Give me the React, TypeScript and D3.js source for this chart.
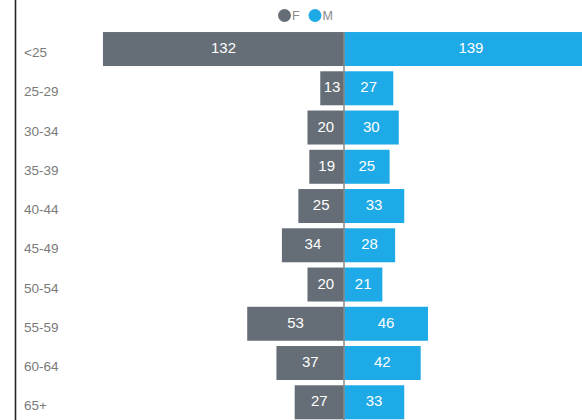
import React from "react";
import * as d3 from "d3";

const categories = ["<25", "25-29", "30-34", "35-39", "40-44", "45-49", "50-54", "55-59", "60-64", "65+"];
const femaleValues = [132, 13, 20, 19, 25, 34, 20, 53, 37, 27];
const maleValues = [139, 27, 30, 25, 33, 28, 21, 46, 42, 33];
const seriesNames = ["F", "M"];

const W = 582;
const H = 420;
const CENTER = 344;
const PX = 1.826;
const F_COLOR = "#656e76";
const M_COLOR = "#1eaae6";

export default function App() {
  const x = d3.scaleLinear().domain([-150, 150]).range([CENTER - 150 * PX, CENTER + 150 * PX]);
  const y = d3
    .scaleBand<string>()
    .domain(categories)
    .range([29.4, 421.9])
    .paddingInner(0.134)
    .paddingOuter(0.067);
  const bw = y.bandwidth();
  const font = "Liberation Sans, Arial, sans-serif";

  return (
    <svg
      width={W}
      height={H}
      style={{ position: "absolute", left: 0, top: 0, background: "#fff" }}
    >
      <rect x={0} y={0} width={W} height={H} fill="#fff" />
      {categories.map((c, i) => {
        const y0 = y(c)!;
        const fv = femaleValues[i];
        const mv = maleValues[i];
        const xf = x(-fv);
        const xm = x(mv);
        return (
          <g key={c}>
            <rect x={xf} y={y0} width={x(0) - xf} height={bw} fill={F_COLOR} />
            <rect x={x(0)} y={y0} width={xm - x(0)} height={bw} fill={M_COLOR} />
            <text
              x={(xf + x(0)) / 2}
              y={y0 + bw / 2 + 4}
              textAnchor="middle"
              fill="#fff"
              fontSize={15}
              fontFamily={font}
            >
              {fv}
            </text>
            <text
              x={(xm + x(0)) / 2}
              y={y0 + bw / 2 + 4}
              textAnchor="middle"
              fill="#fff"
              fontSize={15}
              fontFamily={font}
            >
              {mv}
            </text>
            <text
              x={24}
              y={y0 + bw / 2 + 8}
              fill="#7a7a7a"
              fontSize={13.5}
              fontFamily={font}
            >
              {c}
            </text>
          </g>
        );
      })}
      <line x1={x(0)} x2={x(0)} y1={y(categories[0])!} y2={H} stroke="#8a8a8a" strokeWidth={1.5} />
      <line x1={15.5} x2={15.5} y1={0} y2={H} stroke="#222" strokeWidth={1.6} />
      <g>
        <circle cx={284.5} cy={15.5} r={6.5} fill={F_COLOR} />
        <text x={292} y={20} fill="#888" fontSize={12.5} fontFamily={font}>
          {seriesNames[0]}
        </text>
        <circle cx={315} cy={15.5} r={6.5} fill={M_COLOR} />
        <text x={322.5} y={20} fill="#888" fontSize={12.5} fontFamily={font}>
          {seriesNames[1]}
        </text>
      </g>
    </svg>
  );
}
